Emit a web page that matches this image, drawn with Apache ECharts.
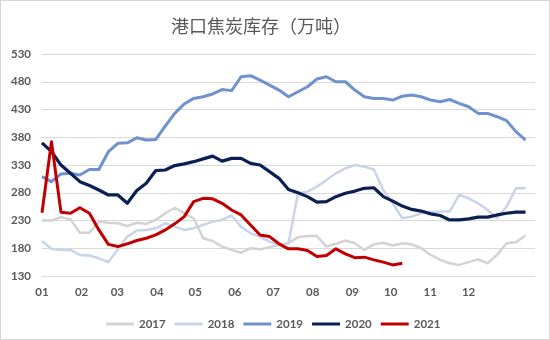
<!DOCTYPE html>
<html>
<head>
<meta charset="utf-8">
<script src="https://cdn.jsdelivr.net/npm/echarts@6/dist/echarts.min.js"></script>
<style>
  html, body { margin: 0; padding: 0; background: #fff; }
  #chart { position: absolute; left: 0; top: 0; width: 550px; height: 340px; }
  #frame { position: absolute; left: 0; top: 0; width: 550px; height: 340px; box-sizing: border-box; border: 1px solid #d6d6d6; pointer-events: none; }
</style>
</head>
<body>
<div id="chart"></div>
<div id="frame"></div>
<script>
// ---- data ----
const titleText = '港口焦炭库存（万吨）';
const seriesNames = ['2017', '2018', '2019', '2020', '2021'];
const monthLabels = ['01','02','03','04','05','06','07','08','09','10','11','12'];
const monthStartDays = [0, 31, 59, 90, 120, 151, 181, 212, 243, 273, 304, 334];
const yTicks = [130, 180, 230, 280, 330, 380, 430, 480, 530];
const weeks = [];
for (let i = 1; i <= 53; i++) weeks.push('W' + i);

const s2017 = [230,230,236,232,208,208,228,226,225,220,226,
               224,231,243,253,243,234,198,193,183,177,
               172,180,178,182,186,189,200,202,202,183,188,
               194,189,177,187,190,185,189,187,180,168,
               159,153,150,155,160,153,168,189,191,203];
const s2018 = [193,179,177,177,168,167,162,155,178,201,212,
               213,216,225,219,213,216,222,228,231,239,
               219,207,201,192,186,189,279,282,291,303,315,
               324,330,327,322,285,261,234,237,243,245,
               246,246,276,270,261,249,234,255,288,288];
const s2019 = [309,300,314,315,312,322,322,354,369,370,379,
               375,376,400,423,440,450,453,458,466,464,
               489,491,483,474,465,453,462,471,485,489,480,
               480,465,453,450,450,447,454,456,453,447,
               444,448,441,435,423,423,417,410,390,375];
const s2020 = [370,354,330,315,300,293,285,276,276,261,284,
               297,320,321,329,332,336,341,346,337,342,
               342,333,330,318,306,286,280,273,263,264,273,
               279,283,288,289,273,265,256,250,247,242,
               239,231,231,233,236,236,240,243,245,245];
const s2021 = [244,372,245,243,253,243,213,187,183,188,194,
               198,204,213,224,237,264,270,269,261,249,
               240,222,204,201,188,179,179,176,165,167,179,
               170,163,164,159,155,150,153];

// ---- styles ----
const colors = ['#d3d3d3', '#c9d4e8', '#6f92cf', '#0c1f52', '#c00000'];
const widths = [2.5, 2.5, 3, 3.2, 3];
const allData = [s2017, s2018, s2019, s2020, s2021];
const textColor = '#595959';
const numFont = 'Lato';

const chart = echarts.init(document.getElementById('chart'), null, { renderer: 'canvas' });
chart.setOption({
  animation: false,
  backgroundColor: '#ffffff',
  title: {
    text: titleText,
    left: 166,
    top: 12,
    textStyle: { fontSize: 18, fontWeight: 'normal', color: textColor, fontFamily: 'Noto Sans CJK SC' }
  },
  legend: {
    data: seriesNames,
    left: 101,
    top: 313,
    icon: 'rect',
    itemWidth: 28,
    itemHeight: 3,
    itemGap: 9,
    textStyle: { fontSize: 11.5, color: textColor, fontFamily: numFont, fontWeight: 'bold' }
  },
  grid: { left: 42, right: 15, top: 54, bottom: 64, containLabel: false },
  xAxis: [
    {
      type: 'category',
      data: weeks,
      boundaryGap: false,
      show: false
    },
    {
      type: 'value',
      min: 0,
      max: 386,
      position: 'bottom',
      axisLine: { show: false },
      axisTick: { show: false },
      splitLine: { show: false },
      axisLabel: {
        customValues: monthStartDays,
        formatter: function (v) { return monthLabels[monthStartDays.indexOf(v)]; },
        margin: 10,
        fontSize: 11.5,
        color: textColor,
        fontFamily: numFont,
        fontWeight: 'bold'
      }
    }
  ],
  yAxis: {
    type: 'value',
    min: 130,
    max: 530,
    axisLine: { show: false },
    axisTick: { show: false, customValues: yTicks },
    axisLabel: { customValues: yTicks, margin: 11, fontSize: 11.5, color: textColor, fontFamily: numFont, fontWeight: 'bold' },
    splitLine: { show: true, lineStyle: { color: '#d9d9d9', width: 1 } }
  },
  series: seriesNames.map(function (name, k) {
    return {
      name: name,
      type: 'line',
      xAxisIndex: 0,
      data: allData[k],
      symbol: 'none',
      smooth: false,
      z: k + 2,
      lineStyle: { color: colors[k], width: widths[k], join: 'round' },
      itemStyle: { color: colors[k] }
    };
  })
});
</script>
</body>
</html>
